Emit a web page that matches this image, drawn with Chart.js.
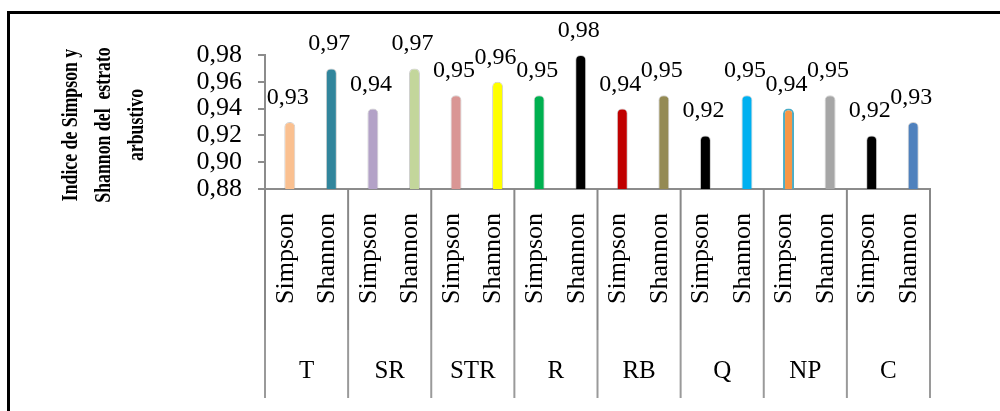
<!DOCTYPE html>
<html>
<head>
<meta charset="utf-8">
<script src="https://cdn.jsdelivr.net/npm/chart.js@4/dist/chart.umd.min.js"></script>
<style>
  html, body { margin: 0; padding: 0; background: #fff; }
  #wrap { position: relative; width: 1000px; height: 411px; overflow: hidden; }
  #frame {
    position: absolute; left: 7px; top: 11px; width: 1000px; height: 420px;
    border-top: 3px solid #000; border-left: 3px solid #000; pointer-events: none;
  }
  canvas { position: absolute; left: 0; top: 0; }
</style>
</head>
<body>
<div id="wrap">
  <canvas id="chart" width="1000" height="411"></canvas>
  <div id="frame"></div>
</div>
<script>
// Sites (outer axis level) and diversity indices (inner axis level)
const groups = ['T', 'SR', 'STR', 'R', 'RB', 'Q', 'NP', 'C'];
const indices = ['Simpson', 'Shannon'];

// Index values per site
const simpsonValues = [0.93, 0.94, 0.95, 0.95, 0.94, 0.92, 0.94, 0.92];
const shannonValues = [0.97, 0.97, 0.96, 0.98, 0.95, 0.95, 0.95, 0.93];

// Y axis tick values
const yTicks = [0.88, 0.90, 0.92, 0.94, 0.96, 0.98];

// One colour per bar, site by site (Simpson, Shannon)
const barColors = [
  '#FAC090', '#31859C',
  '#B3A2C7', '#C3D69B',
  '#D99694', '#FFFF00',
  '#00B050', '#000000',
  '#C00000', '#948A54',
  '#000000', '#00B0F0',
  '#F79646', '#A6A6A6',
  '#000000', '#4F81BD'
];
const barBorders = barColors.map((c, i) => i === 12 ? '#4BACC6' : 'rgba(120,120,120,0.35)');
const barBorderWidths = barColors.map((c, i) => i === 12 ? 2 : 1);

const labels = groups.flatMap(() => indices);
const values = groups.flatMap((g, i) => [simpsonValues[i], shannonValues[i]]);

const SERIF = '"Liberation Serif", "Times New Roman", serif';
const AXIS_GREY = '#8c8c8c';
const fmt = v => v.toFixed(2).replace('.', ',');

// Shift bars slightly right, like a 3-D depth offset
const depthShift = {
  id: 'depthShift',
  beforeDatasetsDraw(chart) { chart.ctx.save(); chart.ctx.translate(4, 0); },
  afterDatasetsDraw(chart) { chart.ctx.restore(); }
};

// Value labels above each bar
const valueLabels = {
  id: 'valueLabels',
  afterDatasetsDraw(chart) {
    const ctx = chart.ctx;
    const meta = chart.getDatasetMeta(0);
    ctx.save();
    ctx.font = '24px ' + SERIF;
    ctx.fillStyle = '#000';
    ctx.textAlign = 'center';
    ctx.textBaseline = 'alphabetic';
    meta.data.forEach((bar, i) => {
      ctx.fillText(fmt(values[i]), bar.x + 2, bar.y - 18);
    });
    ctx.restore();
  }
};

// Outer category level: site separators and site names
const groupAxis = {
  id: 'groupAxis',
  afterDraw(chart) {
    const ctx = chart.ctx;
    const x = chart.scales.x;
    const half = (x.getPixelForValue(1) - x.getPixelForValue(0)) / 2;
    const top = x.top;
    const bottom = x.bottom;
    ctx.save();
    ctx.lineWidth = 2;
    for (let g = 0; g <= groups.length; g++) {
      const bx = g < groups.length ? x.getPixelForValue(2 * g) - half
                                   : x.getPixelForValue(2 * g - 1) + half;
      ctx.strokeStyle = '#888';
      ctx.beginPath(); ctx.moveTo(bx, top); ctx.lineTo(bx, top + 141); ctx.stroke();
      ctx.strokeStyle = '#9a9a9a';
      ctx.beginPath(); ctx.moveTo(bx, top + 141); ctx.lineTo(bx, bottom); ctx.stroke();
    }
    ctx.font = '25px ' + SERIF;
    ctx.fillStyle = '#000';
    ctx.textAlign = 'center';
    ctx.textBaseline = 'middle';
    groups.forEach((g, i) => {
      const cx = (x.getPixelForValue(2 * i) + x.getPixelForValue(2 * i + 1)) / 2;
      ctx.fillText(g, cx, top + 182);
    });
    ctx.restore();
  }
};

// Y axis title, three rotated bold lines (slightly condensed)
const yTitle = {
  id: 'yTitle',
  afterDraw(chart) {
    const ctx = chart.ctx;
    const a = chart.chartArea;
    const cy = (a.top + a.bottom) / 2 + 3;
    const lines = ['Indice de Simpson y', 'Shannon del  estrato', 'arbustivo'];
    const baseX = [77, 110, 143];
    ctx.save();
    ctx.font = 'bold 24px ' + SERIF;
    ctx.fillStyle = '#000';
    ctx.textAlign = 'center';
    ctx.textBaseline = 'alphabetic';
    lines.forEach((t, i) => {
      ctx.save();
      ctx.translate(baseX[i], cy);
      ctx.rotate(-Math.PI / 2);
      ctx.scale(0.74, 1);
      ctx.fillText(t, 0, 0);
      ctx.restore();
    });
    ctx.restore();
  }
};

new Chart(document.getElementById('chart'), {
  type: 'bar',
  data: {
    labels: labels,
    datasets: [{
      data: values,
      backgroundColor: barColors,
      borderColor: barBorders,
      borderWidth: barBorderWidths,
      borderSkipped: 'bottom',
      borderRadius: { topLeft: 5, topRight: 5, bottomLeft: 0, bottomRight: 0 },
      maxBarThickness: 11,
      categoryPercentage: 1.0,
      barPercentage: 0.27
    }]
  },
  options: {
    responsive: false,
    animation: false,
    devicePixelRatio: 1,
    layout: { padding: { top: 55, right: 70, bottom: 13, left: 0 } },
    plugins: {
      legend: { display: false },
      tooltip: { enabled: false }
    },
    scales: {
      x: {
        type: 'category',
        offset: true,
        grid: { display: false, drawTicks: false },
        border: { display: true, color: AXIS_GREY, width: 2 },
        ticks: {
          autoSkip: false,
          minRotation: 90,
          maxRotation: 90,
          padding: 24,
          color: '#000',
          font: { family: SERIF, size: 26 }
        },
        afterFit(scale) { scale.height = 209; }
      },
      y: {
        min: 0.88,
        max: 0.98,
        grid: { display: true, drawOnChartArea: false, drawTicks: true, tickLength: 7, color: AXIS_GREY, lineWidth: 2 },
        border: { display: true, color: AXIS_GREY, width: 2 },
        afterBuildTicks(scale) { scale.ticks = yTicks.map(v => ({ value: v })); },
        ticks: {
          autoSkip: false,
          padding: 16,
          color: '#000',
          font: { family: SERIF, size: 26 },
          callback: v => fmt(v)
        },
        afterFit(scale) { scale.width = 265; }
      }
    }
  },
  plugins: [depthShift, valueLabels, groupAxis, yTitle]
});
</script>
</body>
</html>
